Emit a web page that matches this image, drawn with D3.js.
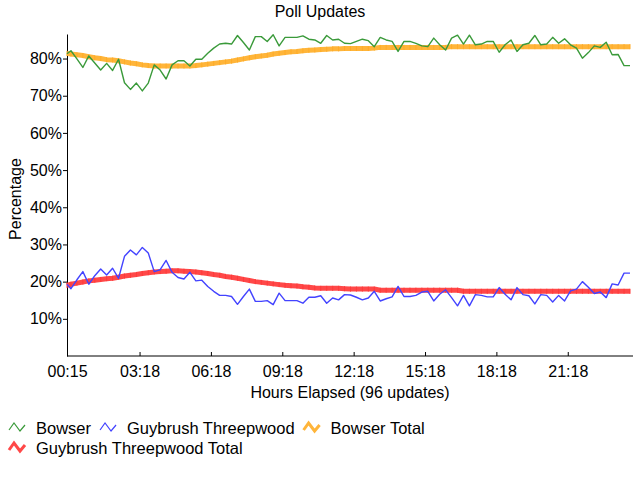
<!DOCTYPE html>
<html>
<head>
<meta charset="utf-8">
<script src="https://cdn.jsdelivr.net/npm/d3@7"></script>
<style>
  body { margin: 0; background: #fff; }
  text { font-family: "Liberation Sans", Arial, sans-serif; fill: #000; }
</style>
</head>
<body>
<svg width="640" height="480"></svg>
<script>
// update times in minutes: first poll at 00:15, then every 15 minutes from 00:25
let times = []
for (let i = 0; i < 96; i++) {
    times.push(i == 0 ? 15 : 25 + 15 * (i - 1))
}

let tickTimes = [15, 198, 378, 558, 738, 918, 1098, 1278]
let tickLabels = ['00:15', '03:18', '06:18', '09:18', '12:18', '15:18', '18:18', '21:18']
let yTicks = [10, 20, 30, 40, 50, 60, 70, 80]

let bowser = [81.3, 82.1, 79.9, 77.6, 80.7, 78.8, 76.9, 78.7, 76.8, 79.8,
    73.5, 71.7, 73.4, 71.3, 73.4, 78.3, 76.9, 74.5, 78.3, 79.4,
    79.4, 78.0, 79.8, 79.8, 81.4, 82.8, 83.9, 84.1, 83.9, 86.2,
    84.3, 82.3, 85.9, 85.9, 84.6, 86.4, 83.4, 85.7, 85.7, 85.7,
    86.1, 85.2, 85.0, 84.1, 86.2, 85.0, 85.2, 84.1, 84.0, 84.6,
    85.2, 84.8, 83.2, 85.7, 85.0, 84.6, 81.9, 84.6, 84.6, 84.1,
    83.4, 83.2, 85.5, 83.7, 82.3, 85.5, 86.3, 83.9, 86.3, 83.7,
    83.9, 84.6, 84.6, 81.7, 83.7, 85.0, 81.9, 83.7, 84.1, 86.2,
    83.7, 83.9, 85.7, 84.1, 85.3, 83.7, 82.8, 80.1, 81.6, 83.4,
    83.0, 84.4, 81.0, 81.1, 78.1, 78.1]

let guybrush = [19.3, 18.1, 20.5, 22.7, 19.3, 21.6, 23.4, 21.8, 23.6, 20.9,
    26.8, 28.5, 27.2, 29.2, 27.7, 22.7, 23.2, 25.7, 22.5, 21.1,
    20.7, 22.5, 20.2, 20.4, 18.7, 17.4, 16.3, 16.3, 16.0, 13.9,
    16.0, 18.0, 14.7, 14.7, 14.9, 13.8, 16.9, 14.9, 14.9, 14.9,
    14.2, 15.8, 15.8, 16.2, 14.2, 15.6, 15.1, 16.5, 16.4, 15.8,
    15.1, 15.6, 17.4, 14.8, 15.4, 15.9, 18.7, 16.0, 16.0, 16.3,
    17.2, 17.4, 14.8, 16.6, 17.8, 15.7, 13.5, 16.3, 13.5, 16.5,
    16.3, 15.9, 15.9, 18.4, 16.6, 15.1, 18.4, 16.5, 16.2, 14.0,
    16.5, 16.3, 14.5, 16.3, 14.8, 17.5, 18.0, 20.0, 18.5, 16.8,
    17.2, 15.7, 19.4, 19.1, 22.3, 22.3]

let bowserTotal = [81.4, 81.2, 81.0, 80.8, 80.5, 80.2, 80.0, 79.7, 79.6, 79.4,
    79.1, 78.8, 78.6, 78.3, 78.1, 78.0, 78.0, 78.0, 78.0, 78.0,
    78.0, 78.0, 78.1, 78.3, 78.5, 78.7, 78.9, 79.1, 79.3, 79.6,
    79.9, 80.2, 80.5, 80.7, 80.9, 81.2, 81.4, 81.6, 81.8, 81.9,
    82.1, 82.2, 82.3, 82.4, 82.5, 82.6, 82.6, 82.7, 82.7, 82.7,
    82.7, 82.7, 82.8, 83.0, 83.0, 83.0, 83.0, 83.0, 83.0, 83.0,
    83.0, 83.0, 83.0, 83.0, 83.0, 83.2, 83.2, 83.2, 83.2, 83.2,
    83.2, 83.2, 83.2, 83.2, 83.2, 83.2, 83.2, 83.2, 83.2, 83.2,
    83.2, 83.2, 83.2, 83.2, 83.2, 83.2, 83.2, 83.2, 83.2, 83.2,
    83.2, 83.2, 83.2, 83.2, 83.2, 83.2]

let guybrushTotal = [19.0, 19.3, 19.6, 19.9, 20.2, 20.4, 20.6, 20.8, 20.9, 21.2,
    21.5, 21.7, 21.9, 22.2, 22.4, 22.6, 22.7, 22.8, 22.9, 22.9,
    22.8, 22.7, 22.6, 22.4, 22.2, 21.9, 21.7, 21.4, 21.2, 20.9,
    20.6, 20.3, 20.0, 19.8, 19.6, 19.4, 19.2, 19.0, 18.9, 18.8,
    18.6, 18.5, 18.3, 18.2, 18.2, 18.2, 18.2, 18.1, 18.0, 18.0,
    18.0, 18.0, 18.0, 17.7, 17.7, 17.7, 17.7, 17.7, 17.7, 17.7,
    17.7, 17.7, 17.7, 17.7, 17.7, 17.7, 17.7, 17.4, 17.4, 17.4,
    17.4, 17.4, 17.4, 17.4, 17.4, 17.4, 17.4, 17.4, 17.4, 17.4,
    17.4, 17.4, 17.4, 17.4, 17.4, 17.4, 17.4, 17.4, 17.4, 17.4,
    17.4, 17.4, 17.4, 17.4, 17.4, 17.4]

let series = [
    {name: 'Bowser', vals: bowser, color: '#3a9a3a', thick: false},
    {name: 'Guybrush Threepwood', vals: guybrush, color: '#4343ff', thick: false},
    {name: 'Bowser Total', vals: bowserTotal, color: '#ffb53a', mark: '#ffac28', thick: true},
    {name: 'Guybrush Threepwood Total', vals: guybrushTotal, color: '#ff4848', mark: '#ff3a3a', thick: true}
]

let svg = d3.select("svg")

let x = d3.scaleLinear().domain([15, 1435]).range([67, 630])
let y = d3.scaleLinear().domain([0, 86.6]).range([356, 34])

svg.append("text")
    .attr("x", 320)
    .attr("y", 17)
    .attr("text-anchor", "middle")
    .attr("font-size", "16px")
    .text("Poll Updates")

// y axis
let gy = svg.append("g")
    .attr("transform", "translate(67,0)")
    .call(d3.axisLeft(y).tickValues(yTicks).tickFormat((d) => d + '%').tickSize(4).tickPadding(1).tickSizeOuter(0))
gy.selectAll("text").attr("font-size", "16px").attr("font-family", null)
gy.select(".domain").attr("stroke", "#000")

svg.append("text")
    .attr("transform", "translate(21,199) rotate(-90)")
    .attr("text-anchor", "middle")
    .attr("font-size", "16px")
    .text("Percentage")

// x axis
let gx = svg.append("g")
    .attr("transform", "translate(0,356)")
    .call(d3.axisBottom(x).tickValues(tickTimes).tickFormat((d, i) => tickLabels[i]).tickSize(-4).tickSizeOuter(0))
gx.selectAll("text").attr("font-size", "16px").attr("font-family", null).attr("y", 21).attr("dy", null)
gx.select(".domain").attr("d", "M67,0H633").attr("stroke", "#000")

svg.append("text")
    .attr("x", 350)
    .attr("y", 398)
    .attr("text-anchor", "middle")
    .attr("font-size", "16px")
    .text("Hours Elapsed (96 updates)")

let line = d3.line()
    .x((d, i) => x(times[i]))
    .y((d) => y(d))

// thick totals first, thin lines over them
let order = [2, 3, 0, 1]
order.forEach((k) => {
    let s = series[k]
    svg.append("path")
        .datum(s.vals)
        .attr("fill", "none")
        .attr("stroke", s.color)
        .attr("stroke-width", s.thick ? 5 : 1.4)
        .attr("stroke-linejoin", "round")
        .attr("d", line)
    if (s.thick) {
        svg.append("g").selectAll("rect")
            .data(s.vals)
            .join("rect")
            .attr("x", (d, i) => x(times[i]) - 0.5)
            .attr("y", (d) => y(d) - 2.5)
            .attr("width", 1)
            .attr("height", 5)
            .attr("fill", s.mark)
    }
})

// legend, flowing left to right and wrapping
let lx = 9, ly = 434
series.forEach((s) => {
    let g = svg.append("g")
    let t = g.append("text")
        .attr("font-size", "16.5px")
        .text(s.name)
    let tw = t.node().getComputedTextLength()
    if (lx + 27 + tw > 636) {
        lx = 9
        ly += 20
    }
    t.attr("x", lx + 27).attr("y", ly)
    g.append("path")
        .attr("d", "M" + lx + "," + (ly - 4) + "l5,-7l6,8l5,-6")
        .attr("fill", "none")
        .attr("stroke", s.color)
        .attr("stroke-width", s.thick ? 3 : 1.2)
    lx += 27 + tw + 9
})
</script>
</body>
</html>
